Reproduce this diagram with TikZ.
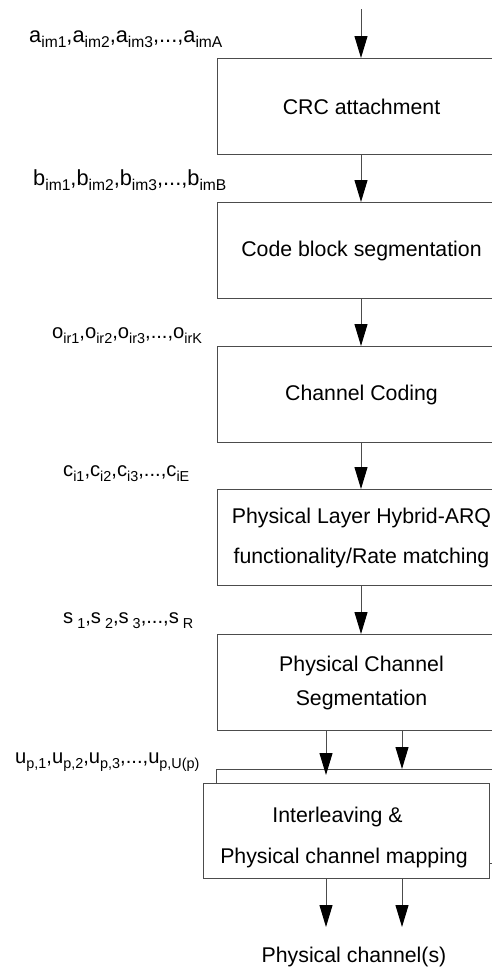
\documentclass[tikz,border=0pt]{standalone}
\usepackage{fontspec}
\setmainfont{Liberation Sans}
\usetikzlibrary{arrows.meta}
\definecolor{linecol}{gray}{0.3}
\newcommand{\lsub}[1]{\raisebox{-5pt}{\fontsize{15.6}{15.6}\selectfont #1}}
\newcommand{\ssub}[1]{\raisebox{-5pt}{\fontsize{14.4}{14.4}\selectfont #1}}
\begin{document}
\begin{tikzpicture}[x=1pt,y=-1pt,
  box/.style={draw=linecol, line width=1pt, fill=white, minimum width=288pt,
    minimum height=96pt, inner sep=0pt, align=center, anchor=north west,
    font=\fontsize{21.3}{40}\selectfont},
  arr/.style={draw=linecol, line width=1pt,
    -{Triangle[length=22pt,width=13pt,color=black]}},
  lab/.style={anchor=base west, inner sep=0pt, font=\fontsize{21.8}{21.8}\selectfont},
  slab/.style={anchor=base west, inner sep=0pt, font=\fontsize{20.2}{20.2}\selectfont},
  txt/.style={inner sep=0pt, align=center}]
\useasboundingbox (0,0) rectangle (492,967);
\clip (0,0) rectangle (492,967);

% boxes
\node[box] (crc) at (217,58) {CRC attachment};
\node[box] (cbs) at (217,202) {Code block segmentation};
\node[box] (cc)  at (217,346) {Channel Coding};
\node[box] (harq) at (217,489) {Physical Layer Hybrid-ARQ\\functionality/Rate matching};
\node[box, font=\fontsize{21.3}{34}\selectfont] (pcs) at (217,634) {Physical Channel\\Segmentation};
\node[box, minimum width=286pt, minimum height=94pt] (ilvback) at (216,769) {};
\node[box, minimum width=286pt, minimum height=95pt] (ilv) at (203,783) {};
\node[txt, font=\fontsize{21.3}{41}\selectfont] (ilvtxt) at (344,837)
  {Interleaving \&\hspace*{13pt}\\Physical channel mapping};

% labels
\node[lab] (la) at (29,42) {a\lsub{im1},a\lsub{im2},a\lsub{im3},...,a\lsub{imA}};
\node[lab] (lb) at (33,185) {b\lsub{im1},b\lsub{im2},b\lsub{im3},...,b\lsub{imB}};
\node[slab] (lo) at (52,338) {o\ssub{ir1},o\ssub{ir2},o\ssub{ir3},...,o\ssub{irK}};
\node[slab] (lc) at (63,476) {c\ssub{i1},c\ssub{i2},c\ssub{i3},...,c\ssub{iE}};
\node[slab] (ls) at (63,623) {s\ssub{\hspace{4pt}1},s\ssub{\hspace{4pt}2},s\ssub{\hspace{4pt}3},...,s\ssub{\hspace{4pt}R}};
\node[slab] (lu) at (15,763) {u\ssub{p,1},u\ssub{p,2},u\ssub{p,3},...,u\ssub{p,U(p)}};
\node[anchor=base, inner sep=0pt, font=\fontsize{21.3}{21}\selectfont] (out) at (354,962) {Physical channel(s)};

% coordinates
\coordinate (in) at (361,9);
\coordinate (b1) at (326,775);
\coordinate (b2) at (402,769);
\coordinate (o1) at (326,927);
\coordinate (o2) at (402,927);

% connectors
\draw[arr] (in) -- ([xshift=144pt]crc.north west);
\draw[arr] ([xshift=144pt]crc.south west) -- ([xshift=144pt]cbs.north west);
\draw[arr] ([xshift=144pt]cbs.south west) -- ([xshift=144pt]cc.north west);
\draw[arr] ([xshift=144pt]cc.south west) -- ([xshift=144pt]harq.north west);
\draw[arr] ([xshift=144pt]harq.south west) -- ([xshift=144pt]pcs.north west);
\draw[arr] ([xshift=109pt]pcs.south west) -- (b1);
\draw[arr] ([xshift=185pt]pcs.south west) -- (b2);
\draw[arr] ([xshift=123pt]ilv.south west) -- (o1);
\draw[arr] ([xshift=199pt]ilv.south west) -- (o2);
\end{tikzpicture}
\end{document}
